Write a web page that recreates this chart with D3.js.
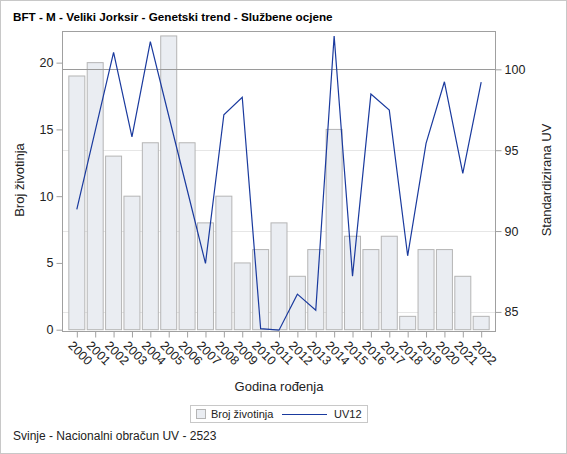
<!DOCTYPE html>
<html><head><meta charset="utf-8">
<script src="https://cdn.jsdelivr.net/npm/d3@7"></script>
<style>
html,body{margin:0;padding:0;background:#fff;}
svg{display:block;font-family:"Liberation Sans",Arial,sans-serif;}
</style></head>
<body>
<svg id="c" width="567" height="454"></svg>
<script>
const years = ["2000","2001","2002","2003","2004","2005","2006","2007","2008","2009","2010","2011","2012","2013","2014","2015","2016","2017","2018","2019","2020","2021","2022"];
const brojZivotinja = [19,20,13,10,14,22,14,8,10,5,6,8,4,6,15,7,6,7,1,6,6,4,1];
const uv12 = [91.34,96.2,101.05,95.83,101.71,97.13,92.57,88.0,97.19,98.27,83.97,83.87,86.1,85.1,102.06,87.21,98.47,97.48,88.47,95.42,99.23,93.56,99.21];
const leftTicks = [0,5,10,15,20];
const rightTicks = [85,90,95,100];

const svg = d3.select("#c");
const L = 62, R = 496, T = 31, B = 331;

svg.append("rect").attr("x",0.5).attr("y",0.5).attr("width",566).attr("height",453)
  .attr("fill","#fff").attr("stroke","#c8c8c8");

const x = d3.scalePoint().domain(years).range([L,R]).padding(0.806);
const step = x.step();
const yL = d3.scaleLinear().domain([0,22.37]).range([329.7,T]);
const yR = d3.scaleLinear().domain([83.82,102.37]).range([B,T]);

// gridlines on right axis ticks
svg.append("g").selectAll("line").data(rightTicks).join("line")
  .attr("x1",L).attr("x2",R).attr("y1",d=>Math.round(yR(d))+0.5).attr("y2",d=>Math.round(yR(d))+0.5)
  .attr("stroke",d=>d===100?"#9a9a9a":"#e6e6e6").attr("stroke-width",1);

// bars
const bw = step*0.87;
svg.append("g").selectAll("rect").data(brojZivotinja).join("rect")
  .attr("x",(d,i)=>x(years[i])-bw/2).attr("width",bw)
  .attr("y",d=>yL(d)).attr("height",d=>yL(0)-yL(d))
  .attr("fill","#eaedf2").attr("stroke","#b5b5b5").attr("stroke-width",1);

// reference line 100 on top of bars
svg.append("line").attr("x1",L).attr("x2",R)
  .attr("y1",Math.round(yR(100))+0.5).attr("y2",Math.round(yR(100))+0.5)
  .attr("stroke","#9a9a9a");

// line
svg.append("path").datum(uv12)
  .attr("d",d3.line().x((d,i)=>x(years[i])).y(d=>yR(d)))
  .attr("fill","none").attr("stroke","#1a3a9e").attr("stroke-width",1.2);

// frame
svg.append("rect").attr("x",L+0.5).attr("y",T+0.5).attr("width",R-L-1).attr("height",B-T)
  .attr("fill","none").attr("stroke","#a0a0a0");

const axStyle = g=>{
  g.selectAll(".domain").remove();
  g.selectAll(".tick line").attr("stroke","#a0a0a0");
  g.selectAll(".tick text").attr("fill","#222").style("font-size","12.5px").style("font-family","'Liberation Sans',Arial,sans-serif");
};

// left axis
svg.append("g").attr("transform",`translate(${L+0.5},0)`)
  .call(d3.axisLeft(yL).tickValues(leftTicks).tickSize(6).tickPadding(3))
  .call(axStyle);
// right axis
svg.append("g").attr("transform",`translate(${R-0.5},0)`)
  .call(d3.axisRight(yR).tickValues(rightTicks).tickSize(6).tickPadding(3))
  .call(axStyle);
// bottom axis
const xa = svg.append("g").attr("transform",`translate(0,${B+0.5})`)
  .call(d3.axisBottom(x).tickSize(6))
  .call(axStyle);
xa.selectAll(".tick text")
  .attr("text-anchor","start").attr("dy",null).attr("y",0).attr("x",0)
  .attr("transform","translate(-7,12) rotate(45)")
  .attr("dominant-baseline","central");

// axis titles
svg.append("text").attr("transform","translate(24,180) rotate(-90)")
  .attr("text-anchor","middle").style("font-size","13px").attr("fill","#222").text("Broj životinja");
svg.append("text").attr("transform","translate(551,180) rotate(-90)")
  .attr("text-anchor","middle").style("font-size","13px").attr("fill","#222").text("Standardizirana UV");
svg.append("text").attr("x",(L+R)/2).attr("y",391)
  .attr("text-anchor","middle").style("font-size","13px").attr("fill","#222").text("Godina rođenja");

// title
svg.append("text").attr("x",13).attr("y",21).style("font-size","11.7px").style("font-weight","bold")
  .attr("fill","#000").text("BFT - M - Veliki Jorksir - Genetski trend - Službene ocjene");

// legend
const lg = svg.append("g");
lg.append("rect").attr("x",190.5).attr("y",405.5).attr("width",177).attr("height",17)
  .attr("fill","#fff").attr("stroke","#c8c8c8");
lg.append("rect").attr("x",196.5).attr("y",409.5).attr("width",9).attr("height",9)
  .attr("fill","#eaedf2").attr("stroke","#b5b5b5");
lg.append("text").attr("x",211).attr("y",418).style("font-size","11px").attr("fill","#222").text("Broj životinja");
lg.append("line").attr("x1",282).attr("x2",327).attr("y1",414.5).attr("y2",414.5)
  .attr("stroke","#1a3a9e").attr("stroke-width",1.2);
lg.append("text").attr("x",334).attr("y",418).style("font-size","11px").attr("fill","#222").text("UV12");

// footnote
svg.append("text").attr("x",13).attr("y",440).style("font-size","12px").attr("fill","#222")
  .text("Svinje - Nacionalni obračun UV - 2523");
</script>
</body></html>
